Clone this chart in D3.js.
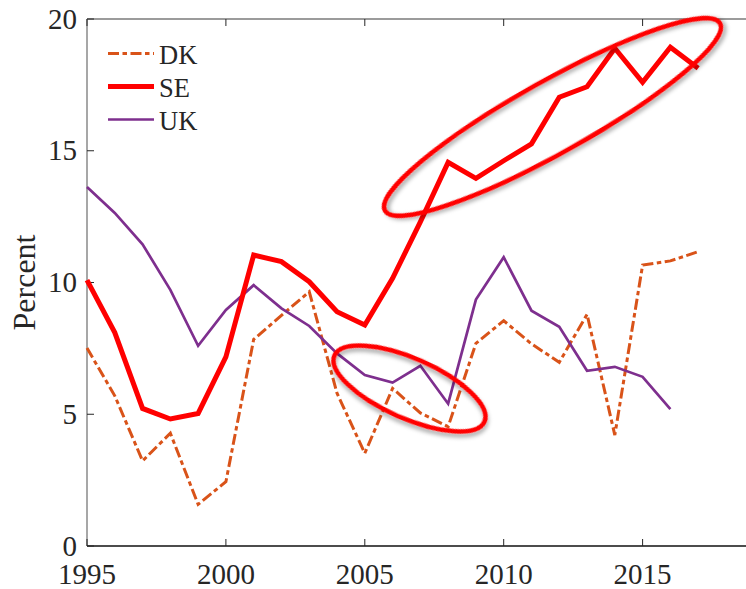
<!DOCTYPE html>
<html>
<head>
<meta charset="utf-8">
<script src="https://cdn.jsdelivr.net/npm/d3@7"></script>
<style>
  html, body { margin: 0; padding: 0; background: #fff; }
  svg { display: block; }
  text { font-family: "Liberation Serif", "Times New Roman", Tinos, serif; fill: #262626; }
</style>
</head>
<body>
<svg id="chart" width="746" height="589"></svg>
<script>
// Years and series (percent)
const years = d3.range(1995, 2018);
const dk = [7.51, 5.7, 3.23, 4.28, 1.58, 2.44, 7.84, 8.75, 9.65, 5.8, 3.52, 5.98, 5.05, 4.53,
            7.69, 8.55, 7.67, 6.97, 8.79, 4.21, 10.66, 10.82, 11.17];
const se = [10.09, 8.1, 5.22, 4.82, 5.03, 7.18, 11.04, 10.79, 10.03, 8.89, 8.39, 10.16, 12.3, 14.56,
            13.95, 14.62, 15.26, 17.03, 17.43, 18.89, 17.6, 18.93, 18.13];
const uk = [13.62, 12.64, 11.45, 9.72, 7.6, 8.96, 9.9, 9.02, 8.35, 7.31, 6.49, 6.2, 6.84, 5.4,
            9.35, 10.96, 8.93, 8.32, 6.65, 6.8, 6.42, 5.19, null];
const xTicks = [1995, 2000, 2005, 2010, 2015];
const yTicks = [0, 5, 10, 15, 20];
const seriesNames = ["DK", "SE", "UK"];

const svg = d3.select("#chart");
const margin = { left: 87, top: 19 };
const x = d3.scaleLinear().domain([1995, 2019]).range([margin.left, margin.left + 24 * 27.78]);
const y = d3.scaleLinear().domain([0, 20]).range([546, margin.top]);

const styles = {
  DK: { color: "#D95319", width: 3, dash: "11,3.5,4.5,3.5" },
  SE: { color: "#FF0000", width: 5, dash: null },
  UK: { color: "#7E2F8E", width: 2.7, dash: null }
};

// Drop shadow for the highlight ellipses
const defs = svg.append("defs");
const f = defs.append("filter").attr("id", "shadow")
  .attr("x", "-20%").attr("y", "-20%").attr("width", "140%").attr("height", "140%");
f.append("feDropShadow").attr("dx", 2).attr("dy", 3).attr("stdDeviation", 2)
  .attr("flood-color", "#000").attr("flood-opacity", 0.35);

// Axes
const tickLen = 7;
const axisG = svg.append("g");
// top and left box lines (grey)
axisG.append("line").attr("x1", x(1995)).attr("x2", x(2019)).attr("y1", y(20)).attr("y2", y(20))
  .attr("stroke", "#7a7a7a").attr("stroke-width", 1.3);
axisG.append("line").attr("x1", x(1995)).attr("x2", x(1995)).attr("y1", y(0)).attr("y2", y(20))
  .attr("stroke", "#8a8a8a").attr("stroke-width", 1.5);
// bottom axis (black)
axisG.append("line").attr("x1", x(1995)).attr("x2", x(2019)).attr("y1", y(0)).attr("y2", y(0))
  .attr("stroke", "#111").attr("stroke-width", 1.5);

xTicks.forEach(t => {
  axisG.append("line").attr("x1", x(t)).attr("x2", x(t)).attr("y1", y(0)).attr("y2", y(0) - tickLen)
    .attr("stroke", "#262626").attr("stroke-width", 1);
  axisG.append("line").attr("x1", x(t)).attr("x2", x(t)).attr("y1", y(20)).attr("y2", y(20) + tickLen)
    .attr("stroke", "#262626").attr("stroke-width", 1);
  axisG.append("text").attr("x", x(t)).attr("y", 584).attr("text-anchor", "middle")
    .attr("font-size", 29).text(t);
});
yTicks.forEach(t => {
  axisG.append("line").attr("x1", x(1995)).attr("x2", x(1995) + tickLen).attr("y1", y(t)).attr("y2", y(t))
    .attr("stroke", "#262626").attr("stroke-width", 1);
  axisG.append("text").attr("x", 77).attr("y", y(t) + 9.5).attr("text-anchor", "end")
    .attr("font-size", 29).text(t);
});
svg.append("text").attr("transform", `translate(35,${(y(0) + y(20)) / 2}) rotate(-90)`)
  .attr("text-anchor", "middle").attr("font-size", 32).text("Percent");

// Lines
const line = d3.line().defined(d => d[1] !== null).x(d => x(d[0])).y(d => y(d[1]));
const data = { DK: dk, SE: se, UK: uk };
["DK", "UK", "SE"].forEach(name => {
  const s = styles[name];
  svg.append("path")
    .datum(years.map((yr, i) => [yr, data[name][i]]))
    .attr("d", line)
    .attr("fill", "none")
    .attr("stroke", s.color)
    .attr("stroke-width", s.width)
    .attr("stroke-linejoin", "miter")
    .attr("stroke-dasharray", s.dash);
});

// Legend
const legend = svg.append("g");
seriesNames.forEach((name, i) => {
  const s = styles[name];
  const ly = 53.5 + i * 33;
  legend.append("line").attr("x1", 108).attr("x2", 154).attr("y1", ly).attr("y2", ly)
    .attr("stroke", s.color).attr("stroke-width", s.width).attr("stroke-dasharray", s.dash);
  legend.append("text").attr("x", 159).attr("y", ly + 10.5).attr("font-size", 26.5)
    .attr("fill", "#000").text(name);
});

// Highlight ellipses
const ellipses = [
  { cx: 552.5, cy: 117, rx: 192, ry: 36, rot: -29.2 },
  { cx: 409.5, cy: 388.5, rx: 82, ry: 30, rot: 23.8 }
];
svg.append("g").selectAll("ellipse").data(ellipses).join("ellipse")
  .attr("cx", 0).attr("cy", 0)
  .attr("rx", d => d.rx).attr("ry", d => d.ry)
  .attr("transform", d => `translate(${d.cx},${d.cy}) rotate(${d.rot})`)
  .attr("fill", "none").attr("stroke", "#FF0000").attr("stroke-width", 4.5)
  .attr("filter", "url(#shadow)");
</script>
</body>
</html>
